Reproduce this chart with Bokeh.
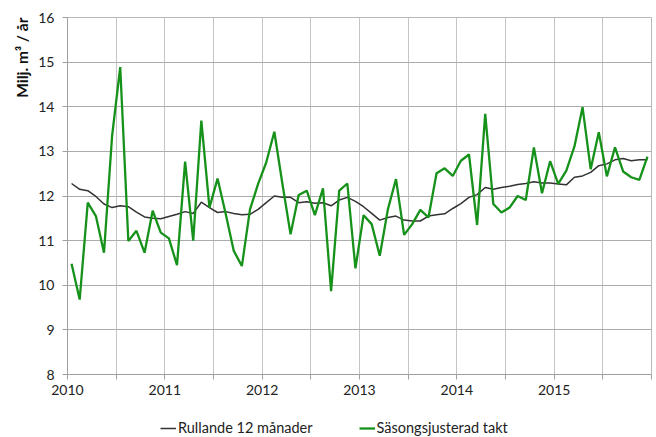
from bokeh.plotting import figure
from bokeh.models import Range1d, FixedTicker, Legend, LegendItem, ColumnDataSource, Title
from bokeh.layouts import column
from bokeh.embed import file_html
from bokeh.resources import INLINE

# ---- data (monthly, Jan 2010 - Dec 2015) ----
years = [2010, 2011, 2012, 2013, 2014, 2015]
rullande = [
    12.28, 12.15, 12.12, 11.99, 11.82, 11.74, 11.78, 11.76, 11.64, 11.53, 11.50, 11.49,
    11.54, 11.59, 11.65, 11.61, 11.86, 11.74, 11.63, 11.65, 11.61, 11.58, 11.59, 11.70,
    11.85, 12.00, 11.97, 11.97, 11.85, 11.87, 11.84, 11.85, 11.78, 11.91, 11.97, 11.88,
    11.76, 11.61, 11.46, 11.52, 11.55, 11.46, 11.44, 11.44, 11.55, 11.58, 11.60, 11.72,
    11.83, 11.97, 12.03, 12.19, 12.15, 12.19, 12.22, 12.26, 12.28, 12.32, 12.29, 12.29,
    12.27, 12.25, 12.42, 12.45, 12.53, 12.68, 12.72, 12.81, 12.84, 12.79, 12.81, 12.81,
]
sasong = [
    10.48, 9.68, 11.85, 11.55, 10.73, 13.35, 14.89, 10.99, 11.22, 10.73, 11.67, 11.18,
    11.05, 10.45, 12.77, 11.00, 13.69, 11.74, 12.39, 11.60, 10.77, 10.43, 11.70, 12.27,
    12.75, 13.44, 12.27, 11.14, 12.02, 12.12, 11.57, 12.17, 9.87, 12.12, 12.28, 10.38,
    11.57, 11.37, 10.66, 11.70, 12.38, 11.13, 11.37, 11.69, 11.52, 12.51, 12.62, 12.45,
    12.79, 12.93, 11.35, 13.84, 11.82, 11.63, 11.74, 12.00, 11.91, 13.09, 12.06, 12.78,
    12.27, 12.57, 13.11, 13.99, 12.60, 13.43, 12.44, 13.09, 12.55, 12.42, 12.36, 12.88,
]
y_ticks = [8, 9, 10, 11, 12, 13, 14, 15, 16]
label_rullande = "Rullande 12 månader"
label_sasong = "Säsongsjusterad takt"
y_label = "Milj. m³ / år"

BLACK = "#333333"
GREEN = "#16911a"
FONT = "Lato"

# positions: middle of each month
x = [y + (m + 0.5) / 12 for y in years for m in range(12)]
src = ColumnDataSource(dict(x=x, r=rullande, s=sasong))

p = figure(width=654, height=418, output_backend="svg", toolbar_location=None,
           x_range=Range1d(2010, 2016), y_range=Range1d(8, 16),
           min_border_left=67, min_border_right=3, min_border_top=17, min_border_bottom=44)

p.background_fill_color = "white"
p.border_fill_color = "white"
p.outline_line_color = "#b8b8b8"

p.line("x", "r", source=src, line_color=BLACK, line_width=1.5)
p.line("x", "s", source=src, line_color=GREEN, line_width=2.3)

half_years = [2010 + 0.5 * i for i in range(13)]
p.xaxis.ticker = FixedTicker(ticks=half_years)
p.xaxis.major_label_overrides = {t: (str(int(t)) if t == int(t) and t < 2016 else "") for t in half_years}
p.yaxis.ticker = FixedTicker(ticks=y_ticks)

for ax in (p.xaxis[0], p.yaxis[0]):
    ax.axis_line_color = "#a0a0a0"
    ax.major_tick_line_color = "#a0a0a0"
    ax.major_tick_out = 5
    ax.major_tick_in = 0
    ax.minor_tick_line_color = None
    ax.major_label_text_font = FONT
    ax.major_label_text_font_size = "14px"
    ax.major_label_text_color = "#222222"

p.xaxis.major_label_standoff = 5
p.yaxis.major_label_standoff = 8

ytitle = Title(text=y_label, align="right", text_font=FONT, text_font_size="15.5px",
               text_font_style="bold", text_color="#111111", standoff=10)
p.add_layout(ytitle, "left")

p.xgrid.ticker = FixedTicker(ticks=half_years)
p.xgrid.grid_line_color = "#c4c4c4"
p.ygrid.ticker = FixedTicker(ticks=y_ticks)
p.ygrid.grid_line_color = "#acacac"

# legend strip below the chart (dummy lines drawn outside its visible range)
lf = figure(width=654, height=18, output_backend="svg", toolbar_location=None,
            x_range=Range1d(0, 1), y_range=Range1d(0, 1),
            min_border_left=0, min_border_right=0, min_border_top=0, min_border_bottom=0)
lf.axis.visible = False
lf.grid.visible = False
lf.outline_line_color = None
lf.background_fill_color = "white"
lf.border_fill_color = "white"
lr1 = lf.line(x=[5, 6], y=[5, 6], line_color=BLACK, line_width=1.5)
lr2 = lf.line(x=[5, 6], y=[5, 6], line_color=GREEN, line_width=2.3)
legend = Legend(items=[LegendItem(label=label_rullande, renderers=[lr1]),
                       LegendItem(label=label_sasong, renderers=[lr2])],
                orientation="horizontal", location=(93, 0),
                border_line_alpha=0, background_fill_alpha=0,
                spacing=46, glyph_width=16, glyph_height=16,
                label_text_font=FONT, label_text_font_size="14.5px",
                label_text_color="#222222", label_standoff=2, padding=0, margin=0)
lf.add_layout(legend, "center")

layout = column(p, lf, spacing=0)
open("out.html", "w").write(file_html(layout, INLINE))
